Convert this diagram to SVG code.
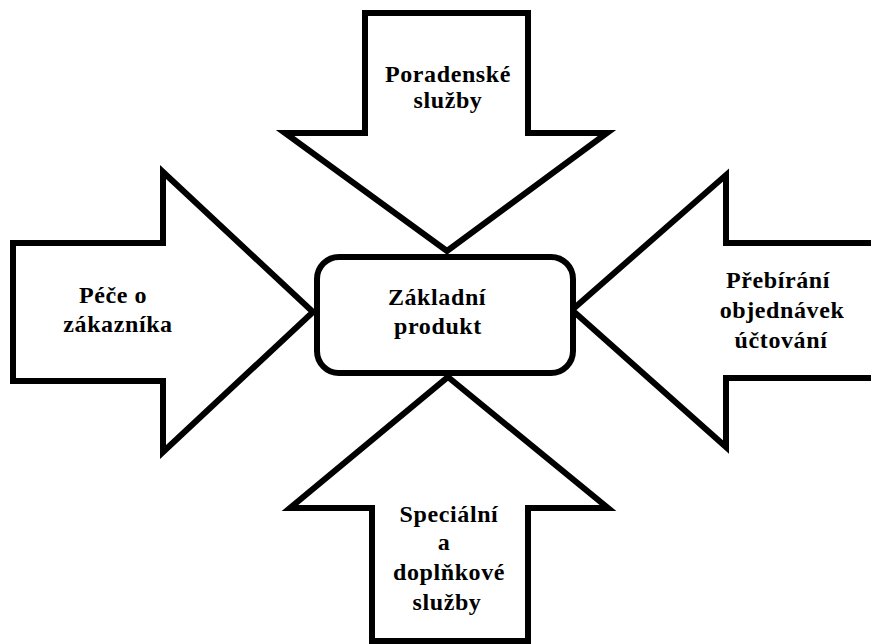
<svg xmlns="http://www.w3.org/2000/svg" width="871" height="644" viewBox="0 0 871 644">
<style>
.shape{fill:#fff;stroke:#000;stroke-width:6;stroke-linejoin:miter}
.t{font-family:"Liberation Serif","Times New Roman",serif;font-weight:bold;font-size:24px;fill:#000;text-anchor:middle;letter-spacing:0.6px}
</style>
<rect width="871" height="644" fill="#fff"/>
<g id="arrow-top">
<path class="shape" d="M365,13 L528,13 L528,133 L607,133 L447,251 L285,133 L365,133 Z"/>
<text class="t" x="448" y="82">Poradenské</text>
<text class="t" x="448" y="108">služby</text>
</g>
<g id="arrow-left">
<path class="shape" d="M13,243 L163,243 L163,172 L313,312 L163,452 L163,381 L13,381 Z"/>
<text class="t" x="113" y="303">Péče o</text>
<text class="t" x="118" y="332">zákazníka</text>
</g>
<g id="arrow-right">
<path class="shape" d="M880,243 L726,243 L726,175 L572,310 L726,447 L726,378 L880,378 Z"/>
<text class="t" x="778" y="288">Přebírání</text>
<text class="t" x="782" y="318">objednávek</text>
<text class="t" x="781" y="348">účtování</text>
</g>
<g id="arrow-bottom">
<path class="shape" d="M448,377 L608,508 L528,508 L528,641 L372,641 L372,508 L290,508 Z"/>
<text class="t" x="449" y="522">Speciální</text>
<text class="t" x="444" y="550">a</text>
<text class="t" x="449" y="580">doplňkové</text>
<text class="t" x="447" y="610">služby</text>
</g>
<g id="node-center">
<rect class="shape" x="317" y="257" width="256" height="116" rx="22" ry="22"/>
<text class="t" x="437" y="305">Základní</text>
<text class="t" x="438" y="334">produkt</text>
</g>
<g id="connectors"></g>
</svg>
